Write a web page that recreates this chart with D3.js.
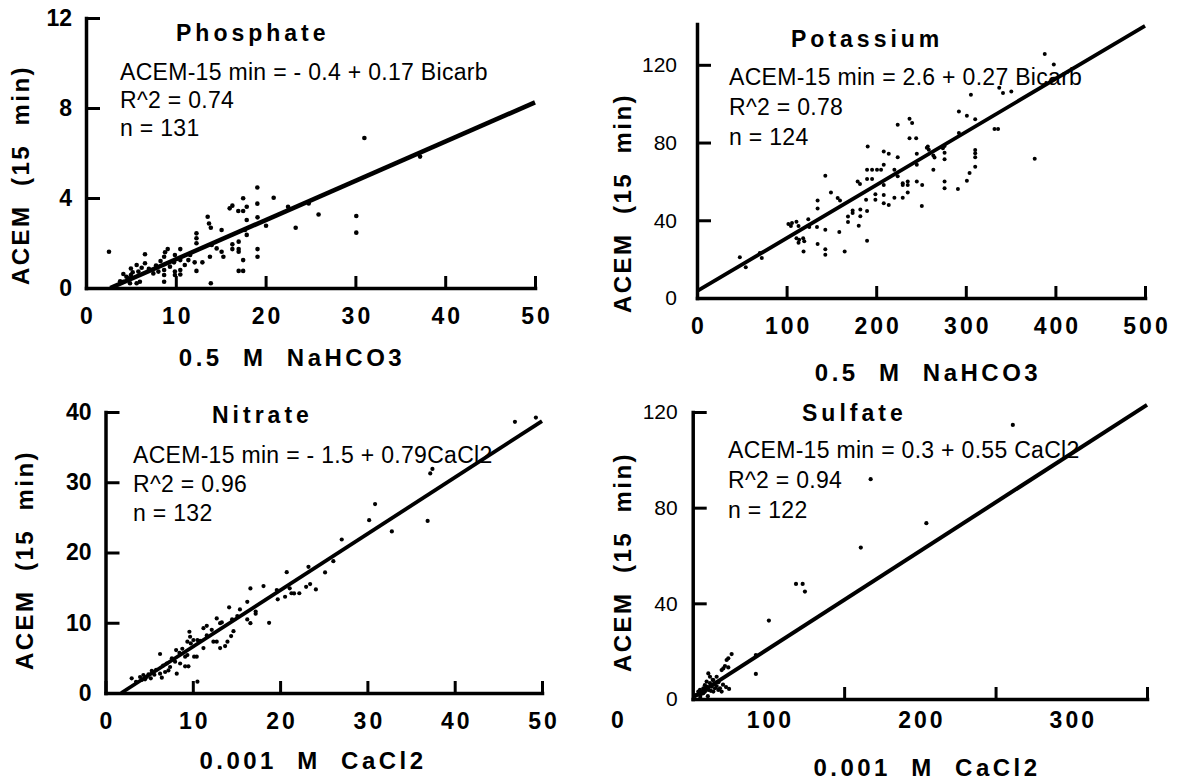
<!DOCTYPE html>
<html>
<head>
<meta charset="utf-8">
<script src="https://cdn.jsdelivr.net/npm/d3@7"></script>
<style>
  body { margin: 0; background: #fff; }
  svg text { font-family: "Liberation Sans", Arial, Helvetica, sans-serif; fill: #000; }
</style>
</head>
<body>
<svg width="1178" height="784"></svg>
<script>
var svg = d3.select("svg");

// data
// points are [extractant, ACEM 15 min]
var phosphatePts = [
  [2.56,1.61],[19.08,4.47],[20.9,4.01],[17.5,3.99],[19.08,3.75],[16.3,3.66],[16.0,3.54],[16.96,3.42],
  [17.5,3.42],[17.9,3.61],[22.5,3.61],[24.8,3.76],[25.9,3.27],[13.55,3.17],[13.7,2.87],[13.9,2.68],
  [17.9,3.02],[19.1,3.14],[20.05,2.77],[23.35,2.68],[15.1,2.58],[17.7,2.58],[17.9,2.36],[12.3,2.43],
  [12.3,2.21],[12.3,1.99],[16.3,1.94],[17.0,2.06],[16.3,1.73],[17.0,1.73],[17.0,1.61],[19.1,1.73],
  [19.1,1.39],[14.0,1.91],[14.55,1.76],[15.1,1.61],[15.3,1.39],[17.5,1.24],[17.0,0.76],[17.5,0.76],
  [13.8,1.39],[12.96,1.14],[12.3,0.76],[11.4,1.24],[12.1,1.14],[9.1,1.73],[8.8,1.59],[8.7,1.39],
  [10.5,1.73],[9.9,1.47],[10.5,1.24],[9.8,1.14],[6.57,1.5],[6.57,1.1],[5.64,1.02],[5.83,0.73],
  [5.0,0.87],[5.0,0.58],[4.16,0.62],[4.16,0.28],[7.5,0.65],[8.06,0.73],[8.7,0.8],[8.7,0.58],
  [9.9,0.73],[9.9,0.58],[10.5,0.8],[10.5,0.6],[8.7,0.28],[11.0,1.02],[13.9,0.21],[6.0,0.28],
  [5.64,0.21],[4.7,0.43],[4.9,0.21],[9.35,0.95],[11.6,1.47],[31.0,6.67],[37.2,5.84],[30.1,3.2],
  [30.1,2.46],[4.5,0.5],[5.2,0.7],[6.2,0.9],[7.0,0.85],[7.8,1.0],[8.3,1.2],[3.8,0.3]
];
var potassiumPts = [
  [47.8,21.0],[54.4,15.8],[70.1,23.2],[72.3,20.6],[102,38.1],[104.8,37.1],[111,39.3],[113.3,37.1],
  [106,38.6],[111,30.8],[114,30.0],[118.5,30.8],[113.3,28.4],[119.7,29.2],[124.2,40.5],[134.6,50.2],
  [134.6,46.1],[133.9,36.5],[125.3,36.5],[118.9,23.9],[134.6,27.8],[143.2,35.1],[143.2,25.1],[143.2,22.3],
  [143.2,62.9],[149.5,54.3],[157,51.4],[159.6,50.2],[158.8,33.9],[164.8,23.9],[168.5,41.9],[168.5,39.1],
  [173.7,45.0],[173.7,43.8],[180.5,37.2],[182.3,42.1],[182.3,45.6],[179.3,60.0],[181.9,58.6],[189.8,66.0],
  [195.4,66.0],[189.8,61.2],[195.4,61.2],[188.7,50.5],[189.8,44.8],[199.1,50.5],[189.8,29.5],[199.1,53.4],
  [200.9,66.0],[205.4,66.0],[208.4,68.6],[208.4,58.2],[208.4,53.0],[208.4,48.7],[208.4,75.4],[214,74.2],
  [224,72.4],[214,47.8],[220.3,51.6],[229.6,51.6],[235.2,54.3],[229.6,59.1],[235.2,60.0],[229.6,58.2],
  [235.2,58.2],[220.3,66.0],[224,62.6],[245.3,74.2],[245.3,68.6],[245.3,60.0],[251.3,58.2],[250.9,47.3],
  [263.8,73.3],[263.8,66.0],[190.5,78.0],[224,89.2],[237.2,92.3],[240.1,90.0],[237.2,82.2],[244.6,82.2],
  [256.5,77.3],[258.7,76.3],[265.1,72.3],[276.3,78.2],[276.3,74.8],[276.3,71.4],[276.3,59.9],[276.3,56.5],
  [292.3,84.9],[292.3,96.0],[301.2,93.8],[310.5,92.0],[310.5,76.2],[310.5,74.5],[310.5,72.4],[310.5,67.6],
  [304.2,64.3],[301.2,60.3],[291.2,56.1],[305.7,104.6],[332,87],[336,87],[341.5,105.5],[350.8,106.3],
  [337.3,108.2],[388.1,125.6],[398.2,120.1],[376.9,71.6],[257.6,77.9],[274.4,77.1]
];
var nitratePts = [
  [3.0,2.09],[3.96,2.28],[4.34,2.56],[4.72,2.28],[4.15,1.85],[4.53,1.94],[4.92,2.65],[5.3,3.17],
  [5.19,2.09],[6.25,5.55],[6.25,2.75],[6.45,2.18],[6.83,2.99],[7.21,3.22],[7.4,3.7],[8.16,2.75],
  [7.6,4.93],[7.97,4.46],[8.09,6.11],[8.47,5.73],[8.55,4.2],[9.12,3.8],[9.5,3.8],[9.12,5.17],
  [9.38,5.4],[9.61,8.72],[9.69,8.01],[9.38,7.3],[9.77,7.06],[10.07,7.54],[10.53,7.54],[10.84,7.44],
  [10.15,5.17],[10.45,5.17],[10.53,1.61],[11.22,6.39],[11.22,9.23],[11.6,9.56],[12.17,8.99],[12.36,7.3],
  [12.74,7.3],[12.74,10.62],[13.13,6.39],[13.13,9.94],[13.32,10.04],[13.7,6.68],[13.97,7.3],[14.39,8.1],
  [14.66,8.8],[14.16,12.19],[14.5,10.47],[15.1,10.95],[15.4,11.9],[16.24,10.47],[16.24,12.98],[16.6,9.94],
  [17.2,11.28],[17.2,11.6],[16.6,14.89],[18.1,15.22],[18.74,9.99],[19.73,13.33],[20.57,13.7],[20.76,17.2],
  [21.1,14.9],[21.3,14.2],[22.2,14.2],[19.62,14.65],[21.6,14.17],[22.98,15.12],[23.44,15.5],[24.1,14.75],
  [23.25,17.96],[25.15,17.16],[26.1,18.77],[27.06,21.85],[30.2,24.6],[30.88,26.9],[32.8,23.0],[36.9,24.5],
  [37.2,31.25],[37.45,31.9],[46.9,38.6],[49.3,39.2],[3.5,1.6],[5.6,2.6],[5.8,3.3],[6.6,3.9],
  [7.0,4.2],[8.8,6.3],[11.6,8.2]
];
var sulfatePts = [
  [118.2,48.1],[122.6,48.1],[124.1,44.9],[100.3,32.8],[91.7,18.4],[91.7,10.5],[75.7,18.8],[73.5,17.0],
  [72.4,16.3],[71.3,13.8],[70.2,12.8],[73.5,13.2],[69.1,12.1],[63.6,7.95],[61.4,9.3],[60.3,10.7],
  [52.6,1.7],[54.8,3.8],[57.0,4.5],[58.1,3.1],[59.2,5.2],[60.3,3.8],[61.4,6.6],[62.5,5.2],
  [63.6,3.1],[64.7,4.5],[65.8,5.4],[66.9,3.8],[68.0,4.5],[69.1,3.1],[57.0,2.4],[54.8,1.7],
  [53.7,3.1],[59.2,7.3],[63.2,8.0],[65.8,9.3],[261.4,114.6],[167.5,91.9],[204.3,73.5],[161,63.3],
  [56,2.2],[58,5.8],[62,3.4],[64,6.2],[67,7],[70,6],[72,5],[74,4.2],[55,0.8],[60,1.2]
];

// fitted lines as drawn: [start, end]
var phosphateFit = [[2.7, 0], [50, 8.25]];
var potassiumFit = [[0, 3.5], [500, 140]];
var nitrateFit = [[1.8, 0], [50, 38.7]];
var sulfateFit = [[51, 1], [350, 123]];

var titles = ["Phosphate", "Potassium", "Nitrate", "Sulfate"];
var phosphateText = ["ACEM-15 min = - 0.4 + 0.17 Bicarb", "R^2 = 0.74", "n = 131"];
var potassiumText = ["ACEM-15 min = 2.6 + 0.27 Bicarb", "R^2 = 0.78", "n = 124"];
var nitrateText = ["ACEM-15 min = - 1.5 + 0.79CaCl2", "R^2 = 0.96", "n = 132"];
var sulfateText = ["ACEM-15 min = 0.3 + 0.55 CaCl2", "R^2 = 0.94", "n = 122"];

var phosphateXTicks = [0, 10, 20, 30, 40, 50], phosphateYTicks = [0, 4, 8, 12];
var potassiumXTicks = [0, 100, 200, 300, 400, 500], potassiumYTicks = [0, 40, 80, 120];
var nitrateXTicks = [0, 10, 20, 30, 40, 50], nitrateYTicks = [0, 10, 20, 30, 40];
var sulfateXTicks = [0, 100, 200, 300], sulfateXMarks = [150, 250, 350], sulfateYTicks = [0, 40, 80, 120];

var yTitle = "ACEM  (15  min)";
var bicarbTitle = "0.5  M  NaHCO3", cacl2Title = "0.001  M  CaCl2";
// end of data

var panels = [
  { title: titles[0], pts: phosphatePts, fit: phosphateFit, lines: phosphateText,
    xDomain: [0, 50], xRange: [86, 535], yDomain: [0, 12], yRange: [288, 18], axisFrom: 0,
    xTicks: phosphateXTicks, xMarks: phosphateXTicks, yTicks: phosphateYTicks,
    xTitle: bicarbTitle, yBold: true, yPad: 14, xPad: 20, r: 2.3, fitW: 4.5,
    titlePos: [176, 41], textPos: [120, 80, 28], xTitlePos: [292, 366], yTitlePos: [20, 175] },
  { title: titles[1], pts: potassiumPts, fit: potassiumFit, lines: potassiumText,
    xDomain: [0, 500], xRange: [697, 1145], yDomain: [0, 141], yRange: [298, 24], axisFrom: 0,
    xTicks: potassiumXTicks, xMarks: potassiumXTicks, yTicks: potassiumYTicks,
    xTitle: bicarbTitle, yBold: false, yPad: 20, xPad: 20, r: 2, fitW: 3.8,
    titlePos: [791, 47], textPos: [729, 85, 30], xTitlePos: [928, 381], yTitlePos: [622, 203] },
  { title: titles[2], pts: nitratePts, fit: nitrateFit, lines: nitrateText,
    xDomain: [0, 50], xRange: [105.5, 542], yDomain: [0, 40], yRange: [693, 412], axisFrom: 0,
    xTicks: nitrateXTicks, xMarks: nitrateXTicks, yTicks: nitrateYTicks,
    xTitle: cacl2Title, yBold: true, yPad: 14, xPad: 20, r: 2.1, fitW: 3.8,
    titlePos: [212, 423], textPos: [133, 463, 29], xTitlePos: [313, 769], yTitlePos: [24, 560] },
  { title: titles[3], pts: sulfatePts, fit: sulfateFit, lines: sulfateText,
    xDomain: [0, 350], xRange: [617, 1147], yDomain: [0, 120], yRange: [699, 412], axisFrom: 50,
    xTicks: sulfateXTicks, xMarks: sulfateXMarks, yTicks: sulfateYTicks,
    xTitle: cacl2Title, yBold: false, yPad: 15, xPad: 13, r: 2.1, fitW: 4,
    titlePos: [802, 421], textPos: [728, 458, 30], xTitlePos: [927, 776], yTitlePos: [622, 562] }
];

panels.forEach(drawPanel);

function drawPanel(p) {
  var x = d3.scaleLinear().domain(p.xDomain).range(p.xRange),
      y = d3.scaleLinear().domain(p.yDomain).range(p.yRange),
      g = svg.append("g");

  // title and regression text
  g.append("text")
    .attr("x", p.titlePos[0]).attr("y", p.titlePos[1])
    .attr("font-size", 23).attr("font-weight", "bold").attr("letter-spacing", 4)
    .text(p.title);

  g.selectAll(".eq")
    .data(p.lines)
    .enter().append("text")
      .attr("class", "eq")
      .attr("x", p.textPos[0])
      .attr("y", function(d, i) { return p.textPos[1] + i * p.textPos[2]; })
      .attr("font-size", 23).attr("letter-spacing", 0.3)
      .text(function(d) { return d; });

  // x axis: line + tick marks
  var xLine = d3.scaleLinear()
                .domain([p.axisFrom, p.xDomain[1]])
                .range([x(p.axisFrom), x(p.xDomain[1])]);
  var xa = g.append("g")
    .attr("transform", "translate(0," + y(0) + ")")
    .call(d3.axisBottom(xLine).tickValues(p.xMarks).tickSize(-12).tickSizeOuter(0).tickFormat(""));

  // x tick labels
  var xl = g.append("g")
    .attr("transform", "translate(0," + y(0) + ")")
    .call(d3.axisBottom(x).tickValues(p.xTicks).tickSize(0).tickPadding(p.xPad));
  xl.select(".domain").remove();
  xl.selectAll("text")
    .attr("font-size", 23).attr("font-weight", "bold").attr("letter-spacing", 3).attr("dx", 1.5);

  // y axis
  var ya = g.append("g")
    .attr("transform", "translate(" + x(p.axisFrom) + ",0)")
    .call(d3.axisLeft(y).tickValues(p.yTicks).tickSize(-14).tickSizeOuter(0).tickPadding(p.yPad));
  ya.selectAll("text")
    .attr("font-size", p.yBold ? 23 : 21)
    .attr("font-weight", p.yBold ? "bold" : "normal");

  [xa, xl, ya].forEach(function(a) {
    a.attr("font-family", null).attr("font-size", null);
    a.select(".domain").attr("stroke", "#000").attr("stroke-width", 3.5).attr("stroke-linecap", "square");
    a.selectAll(".tick line").attr("stroke", "#000").attr("stroke-width", 3);
  });

  // fitted line
  g.append("path")
    .datum(p.fit)
    .attr("fill", "none")
    .attr("stroke", "#000")
    .attr("stroke-width", p.fitW)
    .attr("d", d3.line().x(function(d) { return x(d[0]); }).y(function(d) { return y(d[1]); }));

  // points
  g.selectAll("circle")
    .data(p.pts)
    .enter().append("circle")
      .attr("cx", function(d) { return x(d[0]); })
      .attr("cy", function(d) { return y(d[1]); })
      .attr("r", p.r)
      .attr("fill", "#000");

  // axis titles
  g.append("text")
    .attr("x", p.xTitlePos[0]).attr("y", p.xTitlePos[1])
    .attr("text-anchor", "middle")
    .attr("font-size", 24).attr("font-weight", "bold").attr("letter-spacing", 3.5)
    .style("white-space", "pre")
    .text(p.xTitle);

  g.append("text")
    .attr("transform", "translate(" + (p.yTitlePos[0] + 8.6) + "," + p.yTitlePos[1] + ") rotate(-90)")
    .attr("text-anchor", "middle")
    .attr("font-size", 24).attr("font-weight", "bold").attr("letter-spacing", 2.5)
    .style("white-space", "pre")
    .text(yTitle);
}
</script>
</body>
</html>
